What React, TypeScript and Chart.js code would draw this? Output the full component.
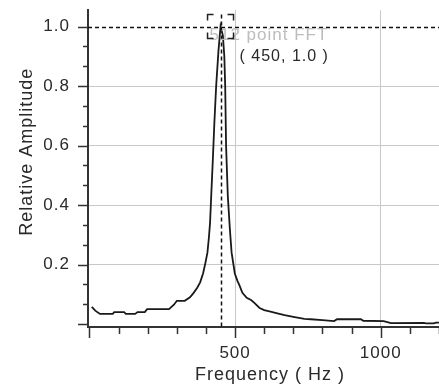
import { useEffect, useRef } from 'react';
import { Chart, registerables } from 'chart.js';

Chart.register(...registerables);

// Spectrum (frequency in Hz, relative amplitude)
const freqs = [
  8, 20, 36, 80, 85, 119, 125, 157, 165, 190, 198, 273, 290, 300, 327, 345, 357, 370, 380, 390,
  398, 405, 410, 414, 418, 423, 429, 435, 443, 450, 458, 463, 466, 469, 475, 482, 488, 499, 508, 515,
  525, 540, 556, 567, 584, 600, 625, 645, 670, 700, 738, 760, 800, 840, 850, 875, 932, 940, 1010, 1035,
  1148, 1155, 1182, 1190, 1200,
];
const amps = [
  0.058, 0.045, 0.034, 0.034, 0.04, 0.04, 0.034, 0.034, 0.04, 0.04, 0.05, 0.05, 0.065, 0.078, 0.078, 0.09, 0.104, 0.122, 0.14, 0.17,
  0.205, 0.24, 0.29, 0.34, 0.43, 0.54, 0.68, 0.8, 0.92, 1.0, 0.97, 0.9, 0.8, 0.6, 0.43, 0.32, 0.24, 0.17, 0.145, 0.13,
  0.105, 0.088, 0.08, 0.07, 0.054, 0.047, 0.041, 0.036, 0.03, 0.024, 0.017, 0.016, 0.013, 0.01, 0.016, 0.016, 0.016, 0.011, 0.01, 0.003,
  0.004, 0.002, 0.002, 0.005, 0.005,
];

const xTicks = [0, 100, 200, 300, 400, 500, 600, 700, 800, 900, 1000, 1100, 1200];
const xLabeled = [500, 1000];
const xMajorMarks = [0, 500, 1000];
const yMajorStep = 0.2;
const ySubdiv = 3;
const yMaxTick = 1.0;

const seriesName = '512 point FFT';
const peakFreq = 450;
const peakAmp = 1.0;
const peakLabel = '( 450, 1.0 )';
const xTitle = 'Frequency ( Hz )';
const yTitle = 'Relative Amplitude';

const FONT = '"Liberation Sans", Arial, sans-serif';
const TEXT = '#2a2a2a';

export default function App() {
  const ref = useRef<HTMLCanvasElement>(null);

  useEffect(() => {
    document.body.style.margin = '0';
    const canvas = ref.current!;
    const nSub = Math.round(yMaxTick / (yMajorStep / ySubdiv));
    const yTickVals: number[] = [];
    for (let i = 0; i <= nSub; i++) yTickVals.push((i * yMajorStep) / ySubdiv);
    const idx = (v: number) => Math.round(v / (yMajorStep / ySubdiv));

    const spacing = (chart: any) => {
      (chart.ctx as any).letterSpacing = '1px';
    };

    const decor = {
      id: 'decor',
      beforeLayout: spacing,
      beforeDraw: spacing,
      afterDraw(chart: any) {
        const { ctx, chartArea: ca, scales } = chart;
        const xs = scales.x;
        const ys = scales.y;
        ctx.save();
        (ctx as any).letterSpacing = '1px';
        // tick marks
        ctx.strokeStyle = '#333';
        ctx.lineWidth = 1.5;
        ctx.setLineDash([]);
        ctx.beginPath();
        for (const v of xTicks) {
          const px = Math.round(xs.getPixelForValue(v)) + 0.5;
          const len = xMajorMarks.includes(v) ? 9 : 5;
          ctx.moveTo(px, ca.bottom);
          ctx.lineTo(px, ca.bottom + 2 + len);
        }
        for (const v of yTickVals) {
          const py = Math.round(ys.getPixelForValue(v)) + 0.5;
          const len = idx(v) % ySubdiv === 0 ? 10 : 5;
          ctx.moveTo(ca.left, py);
          ctx.lineTo(ca.left - len, py);
        }
        ctx.stroke();

        // peak marker lines
        const px = xs.getPixelForValue(peakFreq);
        const py = ys.getPixelForValue(peakAmp);
        ctx.strokeStyle = '#111';
        ctx.lineWidth = 1.5;
        ctx.setLineDash([4, 3]);
        ctx.beginPath();
        ctx.moveTo(ca.left, Math.round(py) + 0.5);
        ctx.lineTo(ca.right, Math.round(py) + 0.5);
        ctx.moveTo(Math.round(px) + 0.5, py - 12);
        ctx.lineTo(Math.round(px) + 0.5, ca.bottom);
        ctx.stroke();
        ctx.setLineDash([]);

        // series name (light)
        ctx.font = `17px ${FONT}`;
        ctx.fillStyle = 'rgba(185,185,185,0.95)';
        ctx.textAlign = 'left';
        ctx.textBaseline = 'middle';
        ctx.fillText(seriesName, px - 11, py + 9);

        // box corners
        const hw = 13, hh = 12, arm = 6;
        const l = px - hw, r = px + hw, t = py - hh, b = py + hh;
        ctx.strokeStyle = '#222';
        ctx.lineWidth = 1.5;
        ctx.beginPath();
        ctx.moveTo(l, t + arm); ctx.lineTo(l, t); ctx.lineTo(l + arm, t);
        ctx.moveTo(r - arm, t); ctx.lineTo(r, t); ctx.lineTo(r, t + arm);
        ctx.moveTo(l, b - arm); ctx.lineTo(l, b); ctx.lineTo(l + arm, b);
        ctx.moveTo(r - arm, b); ctx.lineTo(r, b); ctx.lineTo(r, b - arm);
        ctx.stroke();

        // peak value label
        ctx.font = `16px ${FONT}`;
        ctx.fillStyle = TEXT;
        ctx.fillText(peakLabel, px + 19, py + 30);

        // axis titles
        ctx.font = `18px ${FONT}`;
        ctx.textAlign = 'center';
        ctx.fillText(xTitle, ca.left + 182, chart.height - 12);
        ctx.translate(27, ca.top + 141.5);
        ctx.rotate(-Math.PI / 2);
        ctx.fillText(yTitle, 0, 0);
        ctx.restore();
      },
    };

    const chart = new Chart(canvas, {
      type: 'line',
      data: {
        datasets: [
          {
            label: seriesName,
            data: freqs.map((f, i) => ({ x: f, y: amps[i] })),
            borderColor: '#1a1a1a',
            borderWidth: 1.8,
            pointRadius: 0,
            fill: false,
            tension: 0,
          },
        ],
      },
      options: {
        responsive: false,
        animation: false,
        devicePixelRatio: 1,
        layout: { padding: { top: 10, left: 0, right: 0, bottom: 0 } },
        plugins: { legend: { display: false }, tooltip: { enabled: false } },
        scales: {
          x: {
            type: 'linear',
            min: -5,
            max: 1200,
            afterBuildTicks: (s: any) => {
              s.ticks = xTicks.map((v) => ({ value: v }));
            },
            afterFit: (s: any) => {
              s.height = 60;
            },
            ticks: {
              autoSkip: false,
              maxRotation: 0,
              padding: 0,
              color: TEXT,
              font: { family: FONT, size: 17 },
              callback: (v: any) => (xLabeled.includes(Number(v)) ? String(v) : ''),
            },
            grid: {
              drawTicks: true,
              tickLength: 16,
              tickColor: 'rgba(0,0,0,0)',
              color: (c: any) => (c.tick && xLabeled.includes(c.tick.value) ? '#c8c8c8' : 'rgba(0,0,0,0)'),
              lineWidth: 1,
            },
            border: { display: true, color: '#333', width: 2 },
          },
          y: {
            type: 'linear',
            min: -0.01,
            max: 1.055,
            afterBuildTicks: (s: any) => {
              s.ticks = yTickVals.map((v) => ({ value: v }));
            },
            afterFit: (s: any) => {
              s.width = 88;
            },
            ticks: {
              autoSkip: false,
              padding: 0,
              color: TEXT,
              font: { family: FONT, size: 17 },
              callback: (v: any) => {
                const i = idx(Number(v));
                return i % ySubdiv === 0 && i > 0 ? ((i * yMajorStep) / ySubdiv).toFixed(1) : '';
              },
            },
            grid: {
              drawTicks: true,
              tickLength: 18,
              tickColor: 'rgba(0,0,0,0)',
              color: (c: any) => {
                if (!c.tick) return 'rgba(0,0,0,0)';
                const i = idx(c.tick.value);
                return i % ySubdiv === 0 && i > 0 && i < nSub ? '#c8c8c8' : 'rgba(0,0,0,0)';
              },
              lineWidth: 1,
            },
            border: { display: true, color: '#333', width: 2 },
          },
        },
      },
      plugins: [decor],
    });
    return () => chart.destroy();
  }, []);

  return <canvas ref={ref} width={439} height={387} style={{ display: 'block' }} />;
}
